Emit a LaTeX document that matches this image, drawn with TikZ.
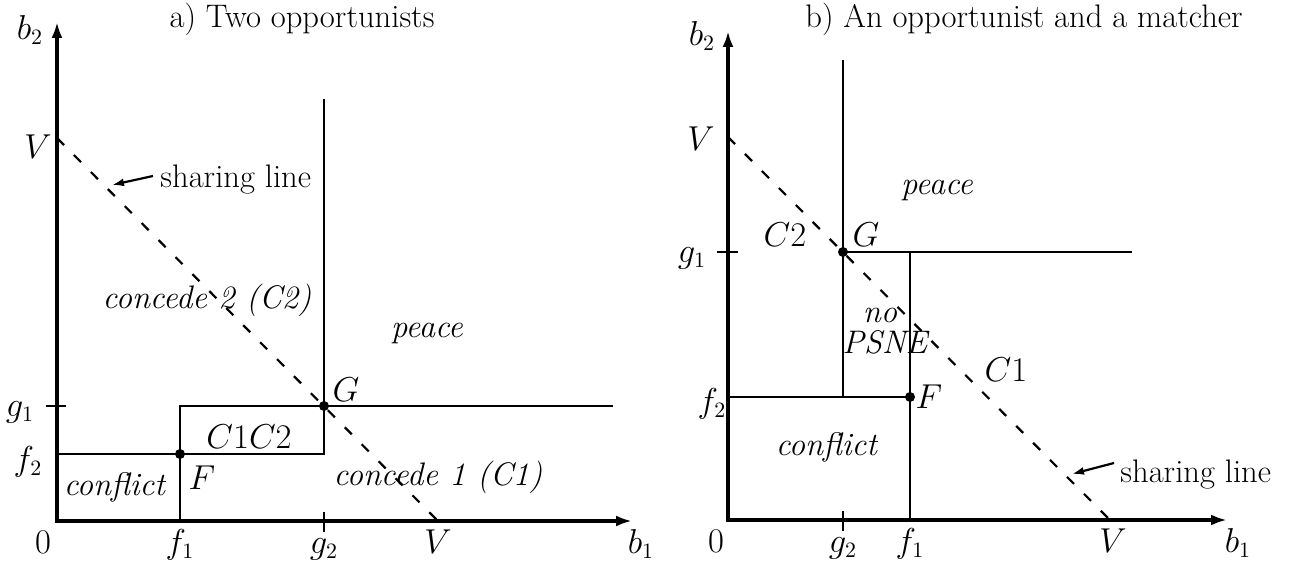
\documentclass[tikz,border=0pt]{standalone}
\usetikzlibrary{arrows.meta}
\newcommand\figfont{\fontsize{16.3}{19}\selectfont}
\begin{document}
\begin{tikzpicture}[x=0.5pt,y=-0.5pt,
  axis/.style={line width=1.9pt,{Latex[length=8pt,width=5.5pt]}-{Latex[length=8pt,width=5.5pt]}},
  bnd/.style={line width=1.1pt},
  share/.style={line width=1.1pt,dash pattern=on 5pt off 7pt},
  tickmark/.style={line width=1.1pt},
  dotpt/.style={circle,fill,inner sep=0pt,minimum size=5pt},
  lbl/.style={inner sep=0pt,font=\figfont},
  blbl/.style={lbl,anchor=base},
  ptr/.style={line width=1.1pt,-{Latex[length=6pt,width=4pt]}}
]
\useasboundingbox (0,0) rectangle (1309,565);

% ================= Panel a =================
\coordinate (LO) at (57,521);
\coordinate (LYt) at (57,22);
\coordinate (LXt) at (632,521);
\coordinate (LVy) at (57,138);
\coordinate (LVx) at (438,521);
\coordinate (Lf2a) at (57,454);
\coordinate (Lg2b) at (324,454);
\coordinate (Lg2t) at (324,99);
\coordinate (Lf1b) at (180,521);
\coordinate (Lg1a) at (180,406);
\coordinate (Lg1e) at (613,406);
\coordinate (Lt1a) at (46,406);
\coordinate (Lt1b) at (66,406);
\coordinate (Lt2a) at (324,512);
\coordinate (Lt2b) at (324,532);
\coordinate (LAs) at (153,176);
\coordinate (LAe) at (112,185);

\draw[bnd] (Lf2a) -- (Lg2b) -- (Lg2t);
\draw[bnd] (Lf1b) -- (Lg1a) -- (Lg1e);
\draw[share] (LVy) -- (LVx);
\draw[axis] (LYt) -- (LO) -- (LXt);
\draw[tickmark] (Lt1a) -- (Lt1b);
\draw[tickmark] (Lt2a) -- (Lt2b);
\node[dotpt] (LF) at (180,454) {};
\node[dotpt] (LG) at (324,406) {};
\draw[ptr] (LAs) -- (LAe);

\node[lbl] (Ltitle) at (302,19) {a) Two opportunists};
\node[lbl] (Lb2) at (30,30) {$b_2$};
\node[lbl] (LVl) at (38,147) {$V$};
\node[lbl,anchor=west] (Lsh) at (160,180) {sharing line};
\node[lbl] (Lc2) at (207,300) {\textit{concede 2 (C2)}};
\node[lbl] (Lpeace) at (427,333) {\textit{peace}};
\node[lbl] (LGl) at (346,390) {$G$};
\node[lbl] (LFl) at (202,478) {$F$};
\node[lbl] (Lc1c2) at (249,437) {$C1C2$};
\node[lbl] (Lconf) at (115,487) {\textit{conflict}};
\node[lbl] (Lc1) at (438,477) {\textit{concede 1 (C1)}};
\node[lbl] (Lg1l) at (20,412) {$g_1$};
\node[lbl] (Lf2l) at (28,462) {$f_2$};
\node[blbl] (L0) at (43,553) {$0$};
\node[blbl] (Lf1l) at (180,553) {$f_1$};
\node[blbl] (Lg2l) at (324,553) {$g_2$};
\node[blbl] (LVxl) at (438,553) {$V$};
\node[blbl] (Lb1) at (641,553) {$b_1$};

% ================= Panel b =================
\coordinate (RO) at (728,520);
\coordinate (RYt) at (728,31);
\coordinate (RXt) at (1227,520);
\coordinate (RVy) at (728,137);
\coordinate (RVx) at (1110,520);
\coordinate (Rg2b) at (843,397);
\coordinate (Rg2t) at (843,60);
\coordinate (Rg1e) at (1132,252);
\coordinate (Rf1b) at (910,520);
\coordinate (Rf1t) at (910,252);
\coordinate (Rf2a) at (728,397);
\coordinate (Rt1a) at (717,252);
\coordinate (Rt1b) at (738,252);
\coordinate (Rt2a) at (843,511);
\coordinate (Rt2b) at (843,531);
\coordinate (RAs) at (1114,463);
\coordinate (RAe) at (1072,474);

\draw[bnd] (Rg2b) -- (Rg2t);
\draw[bnd] (843,252) -- (Rg1e);
\draw[bnd] (Rf1b) -- (Rf1t);
\draw[bnd] (Rf2a) -- (910,397);
\draw[share] (RVy) -- (RVx);
\draw[axis] (RYt) -- (RO) -- (RXt);
\draw[tickmark] (Rt1a) -- (Rt1b);
\draw[tickmark] (Rt2a) -- (Rt2b);
\node[dotpt] (RG) at (843,252) {};
\node[dotpt] (RF) at (910,397) {};
\draw[ptr] (RAs) -- (RAe);

\node[lbl] (Rtitle) at (1024,19) {b) An opportunist and a matcher};
\node[lbl] (Rb2) at (702,36) {$b_2$};
\node[lbl] (RVl) at (701,139) {$V$};
\node[lbl] (Rg1l) at (692,258) {$g_1$};
\node[lbl] (Rf2l) at (712,404) {$f_2$};
\node[lbl] (RC2) at (785,235) {$C2$};
\node[lbl] (RGl) at (866,235) {$G$};
\node[lbl] (Rpeace) at (937,190) {\textit{peace}};
\node[lbl] (Rno) at (880,315) {\textit{no}};
\node[lbl] (Rpsne) at (886,342) {\textit{PSNE}};
\node[lbl] (RC1) at (1006,370) {$C1$};
\node[lbl] (RFl) at (929,397) {$F$};
\node[lbl] (Rconf) at (827,447) {\textit{conflict}};
\node[lbl,anchor=west] (Rsh) at (1120,475) {sharing line};
\node[blbl] (R0) at (716,552) {$0$};
\node[blbl] (Rg2l) at (843,552) {$g_2$};
\node[blbl] (Rf1l) at (910,552) {$f_1$};
\node[blbl] (RVxl) at (1113,552) {$V$};
\node[blbl] (Rb1) at (1238,552) {$b_1$};
\end{tikzpicture}
\end{document}
